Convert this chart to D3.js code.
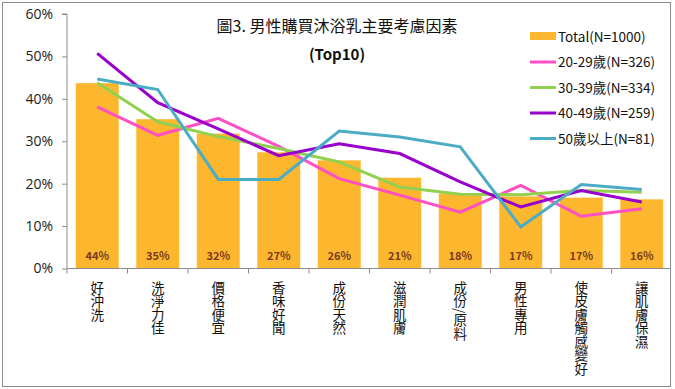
<!DOCTYPE html>
<html>
<head>
<meta charset="utf-8">
<script src="https://cdn.jsdelivr.net/npm/d3@7"></script>
<style>
  body { margin: 0; background: #fff; }
  svg { display: block; font-family: "Noto Sans CJK TC", "Noto Sans", sans-serif; }
</style>
</head>
<body>
<div id="chart"></div>
<script>
var categories = ['好沖洗', '洗淨力佳', '價格便宜', '香味好聞', '成份天然', '滋潤肌膚', '成份/原料', '男性專用', '使皮膚觸感變好', '讓肌膚保濕'];
var totalValues = [43.7, 35.2, 31.8, 27.4, 25.5, 21.4, 17.7, 17.0, 16.7, 16.3];
var age20Values = [38.1, 31.4, 35.4, 28.8, 21.2, 17.3, 13.3, 19.6, 12.3, 14.1];
var age30Values = [43.8, 34.6, 31.1, 28.3, 25.1, 19.2, 17.5, 17.4, 18.4, 18.0];
var age40Values = [50.7, 39.1, 32.9, 26.6, 29.4, 27.1, 20.4, 14.5, 18.4, 15.7];
var age50Values = [44.7, 42.2, 21.0, 21.0, 32.4, 31.0, 28.7, 9.8, 19.8, 18.6];
var yTicks = [0, 10, 20, 30, 40, 50, 60];

var lineSeries = [
  { name: '20-29歲(N=326)', values: age20Values, color: '#ff4fc4' },
  { name: '30-39歲(N=334)', values: age30Values, color: '#92d050' },
  { name: '40-49歲(N=259)', values: age40Values, color: '#9900cc' },
  { name: '50歲以上(N=81)', values: age50Values, color: '#4bacc6' }
];
var barColor = '#fdb72e';

var width = 675, height = 389;
var plotLeft = 67, plotRight = 672, plotTop = 14, plotBottom = 268.5;

var svg = d3.select('#chart').append('svg')
    .attr('width', width)
    .attr('height', height);

svg.append('rect')
    .attr('x', 2.5).attr('y', 2.5)
    .attr('width', 668).attr('height', 384)
    .attr('fill', '#fff')
    .attr('stroke', '#8c8c8c');

var x = d3.scaleBand()
    .domain(categories)
    .range([plotLeft, plotRight])
    .paddingInner(0.29)
    .paddingOuter(0.145);

var y = d3.scaleLinear()
    .domain([0, 60])
    .range([plotBottom, plotTop]);

// bars
svg.selectAll('rect.bar')
    .data(totalValues)
    .enter()
    .append('rect')
    .attr('class', 'bar')
    .attr('x', function (d, i) { return x(categories[i]); })
    .attr('width', x.bandwidth())
    .attr('y', function (d) { return y(d); })
    .attr('height', function (d) { return y(0) - y(d); })
    .attr('fill', barColor);

svg.selectAll('text.barlabel')
    .data(totalValues)
    .enter()
    .append('text')
    .attr('class', 'barlabel')
    .attr('x', function (d, i) { return x(categories[i]) + x.bandwidth() / 2; })
    .attr('y', 260)
    .attr('text-anchor', 'middle')
    .attr('font-size', 11)
    .attr('font-weight', 'bold')
    .attr('fill', '#7a3b1e')
    .text(function (d) { return Math.round(d) + '%'; });

// y axis
var yAxis = svg.append('g')
    .attr('transform', 'translate(' + plotLeft + ',0)')
    .call(d3.axisLeft(y)
      .tickValues(yTicks)
      .tickSize(5)
      .tickPadding(9)
      .tickFormat(function (d) { return d + '%'; }));
yAxis.selectAll('path, line').attr('stroke', '#8c8c8c');
yAxis.selectAll('text')
    .attr('font-size', 14)
    .attr('fill', '#222')
    .style('font-family', '"Open Sans", "Noto Sans", sans-serif');
yAxis.select('path').attr('d', 'M-5,' + plotTop + 'H0V' + plotBottom);

// x axis
svg.append('line')
    .attr('x1', plotLeft).attr('x2', 670)
    .attr('y1', plotBottom).attr('y2', plotBottom)
    .attr('stroke', '#8c8c8c');
svg.selectAll('line.xtick')
    .data(d3.range(categories.length))
    .enter()
    .append('line')
    .attr('class', 'xtick')
    .attr('x1', function (i) { return plotLeft + i * x.step(); })
    .attr('x2', function (i) { return plotLeft + i * x.step(); })
    .attr('y1', plotBottom)
    .attr('y2', plotBottom + 5)
    .attr('stroke', '#8c8c8c');

svg.selectAll('text.xlabel')
    .data(categories)
    .enter()
    .append('text')
    .attr('class', 'xlabel')
    .attr('x', function (d) { return x(d) + x.bandwidth() / 2; })
    .attr('y', 281)
    .attr('font-size', 13.5)
    .attr('fill', '#111')
    .style('writing-mode', 'vertical-rl')
    .text(function (d) { return d; });

// lines
var line = d3.line()
    .x(function (d, i) { return x(categories[i]) + x.bandwidth() / 2; })
    .y(function (d) { return y(d); });

svg.selectAll('path.series')
    .data(lineSeries)
    .enter()
    .append('path')
    .attr('class', 'series')
    .attr('d', function (s) { return line(s.values); })
    .attr('fill', 'none')
    .attr('stroke', function (s) { return s.color; })
    .attr('stroke-width', 3)
    .attr('stroke-linejoin', 'miter');

// title
svg.append('text')
    .attr('x', 337).attr('y', 32)
    .attr('text-anchor', 'middle')
    .attr('font-size', 16)
    .attr('fill', '#111')
    .text('圖3. 男性購買沐浴乳主要考慮因素');
svg.append('text')
    .attr('x', 337).attr('y', 60)
    .attr('text-anchor', 'middle')
    .attr('font-size', 15)
    .attr('font-weight', 'bold')
    .attr('fill', '#111')
    .text('(Top10)');

// legend
var legend = svg.append('g').attr('transform', 'translate(530,0)');
legend.append('rect')
    .attr('x', 0).attr('y', 32)
    .attr('width', 26).attr('height', 8)
    .attr('fill', barColor);
legend.append('text')
    .attr('x', 28).attr('y', 42)
    .attr('font-size', 13.5)
    .attr('fill', '#111')
    .text('Total(N=1000)');

var rows = legend.selectAll('g.row')
    .data(lineSeries)
    .enter()
    .append('g')
    .attr('class', 'row')
    .attr('transform', function (d, i) { return 'translate(0,' + (62 + i * 25.5) + ')'; });
rows.append('line')
    .attr('x1', 0).attr('x2', 26)
    .attr('stroke', function (d) { return d.color; })
    .attr('stroke-width', 3);
rows.append('text')
    .attr('x', 28).attr('y', 5)
    .attr('font-size', 13.5)
    .attr('fill', '#111')
    .text(function (d) { return d.name; });
</script>
</body>
</html>
